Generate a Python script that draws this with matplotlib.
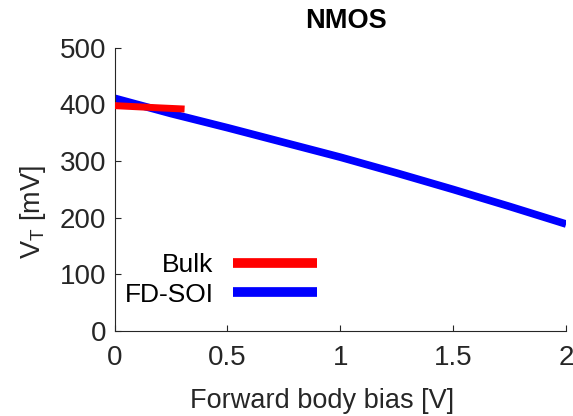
import matplotlib.pyplot as plt
import numpy as np

plt.rcParams["font.family"] = ["Liberation Sans", "DejaVu Sans"]

# threshold voltage vs forward body bias
bulk_bias = [0.0, 0.1, 0.2, 0.31]
bulk_vt = [398, 396, 394, 392]

soi_bias = [0.0, 0.25, 0.5, 0.75, 1.0, 1.25, 1.5, 1.75, 2.0]
soi_vt = [411, 384, 359, 333, 307, 279, 250, 220, 189]

fig = plt.figure(figsize=(5.73, 4.16), dpi=100)
ax = fig.add_axes([0.200, 0.204, 0.788, 0.681])

ax.plot(bulk_bias, bulk_vt, color="#ff0000", linewidth=5, label="Bulk", solid_capstyle="butt", zorder=3)
ax.plot(soi_bias, soi_vt, color="#0000ff", linewidth=5.5, label="FD-SOI", solid_capstyle="butt", zorder=2)

ax.set_xlim(0, 2)
ax.set_ylim(0, 500)
ax.set_xticks([0, 0.5, 1, 1.5, 2])
ax.set_xticklabels(["0", "0.5", "1", "1.5", "2"])
ax.set_yticks([0, 100, 200, 300, 400, 500])

for side in ("top", "right"):
    ax.spines[side].set_visible(False)
for side in ("left", "bottom"):
    ax.spines[side].set_color("#262626")
    ax.spines[side].set_linewidth(0.8)

ax.tick_params(direction="in", length=4, width=0.8, colors="#262626", labelsize=20, pad=6)
ax.tick_params(axis="x", pad=10)
ax.set_xlabel("Forward body bias [V]", fontsize=19.5, color="#262626")
ax.set_ylabel("V$_\\mathregular{T}$ [mV]", fontsize=19.5, color="#262626")
ax.xaxis.set_label_coords(0.46, -0.20)
ax.yaxis.set_label_coords(-0.148, 0.42)
ax.set_title("NMOS", fontsize=19.5, fontweight="bold", pad=14, x=0.513)

leg = ax.legend(loc="center", bbox_to_anchor=(0.385, 0.327), bbox_transform=fig.transFigure,
                frameon=False, markerfirst=False, fontsize=19, handlelength=3.15,
                handletextpad=0.75, labelspacing=0.2)
for line in leg.get_lines():
    line.set_linewidth(7)

fig.savefig("out.png", dpi=100)
